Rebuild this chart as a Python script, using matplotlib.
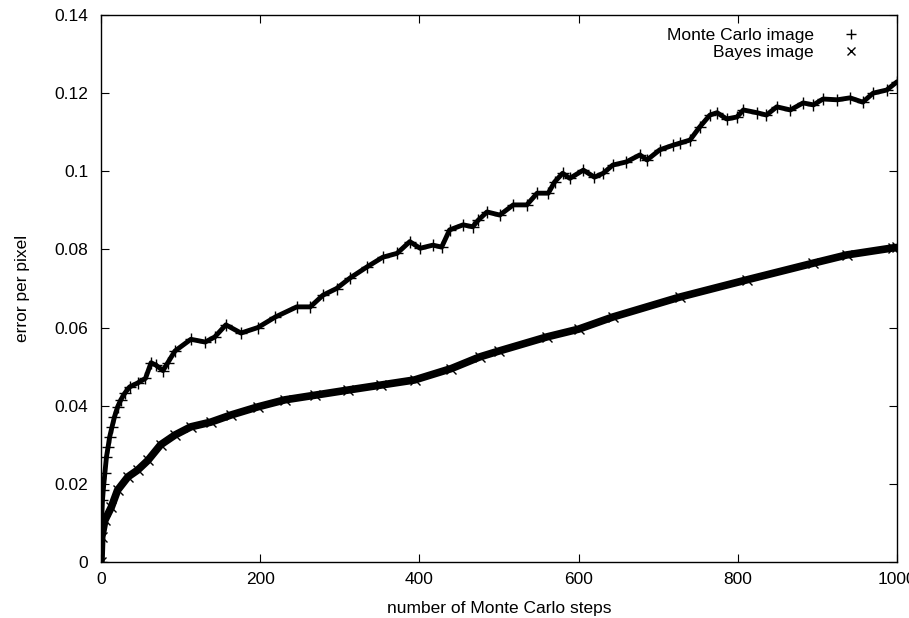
#!/usr/bin/env python3
"""Error per pixel vs number of Monte Carlo steps (gnuplot-style point plot)."""

import matplotlib
matplotlib.use("Agg")
import matplotlib.pyplot as plt
from matplotlib.ticker import FormatStrFormatter

# values
mc_steps = [0, 1, 2, 3, 5, 7, 9, 11, 14, 17, 21, 25, 30, 36, 46, 56, 63, 69, 78, 84,
            93, 113, 131, 143, 157, 176, 197, 219, 246, 263, 279, 296, 313, 334, 354,
            372, 388, 401, 417, 428, 438, 455, 467, 474, 485, 501, 518, 535, 548, 562,
            570, 580, 589, 606, 620, 631, 643, 660, 677, 686, 702, 719, 727, 740, 752,
            765, 774, 786, 799, 807, 824, 836, 849, 866, 882, 895, 907, 925, 941, 957,
            970, 987, 1000]
mc_error = [0.0, 0.011, 0.0159, 0.0185, 0.0228, 0.0269, 0.0294, 0.032, 0.0346, 0.0371,
            0.0397, 0.0415, 0.0432, 0.0448, 0.0458, 0.047, 0.051, 0.0504, 0.049, 0.051,
            0.054, 0.057, 0.0563, 0.0576, 0.0607, 0.0586, 0.060, 0.0627, 0.0653, 0.0653,
            0.0683, 0.070, 0.0727, 0.0755, 0.078, 0.079, 0.082, 0.0803, 0.0811, 0.0806,
            0.085, 0.0863, 0.0858, 0.0875, 0.0896, 0.0888, 0.0914, 0.0914, 0.0944, 0.0944,
            0.0973, 0.0995, 0.0982, 0.1003, 0.0985, 0.0995, 0.1016, 0.1024, 0.1042, 0.1029,
            0.1055, 0.1067, 0.1072, 0.108, 0.1113, 0.1144, 0.115, 0.1134, 0.1139, 0.1157,
            0.115, 0.1144, 0.1165, 0.1157, 0.1175, 0.117, 0.1185, 0.1183, 0.1188, 0.1177,
            0.120, 0.1208, 0.1229]

bayes_steps = [0, 1, 5, 13, 21, 34, 46, 59, 75, 93, 113, 138, 163, 197, 231, 269, 310,
               352, 394, 440, 476, 500, 560, 600, 643, 727, 811, 895, 937, 995, 1000]
bayes_error = [0.0, 0.0064, 0.0107, 0.014, 0.0184, 0.0218, 0.0235, 0.026, 0.030, 0.0325,
               0.0346, 0.0358, 0.0376, 0.0397, 0.0415, 0.0427, 0.044, 0.0453, 0.0466,
               0.0495, 0.0525, 0.054, 0.0576, 0.0596, 0.0627, 0.0678, 0.0722, 0.0765,
               0.0786, 0.0804, 0.0805]

x_ticks = [0, 200, 400, 600, 800, 1000]
y_ticks = [0, 0.02, 0.04, 0.06, 0.08, 0.1, 0.12, 0.14]

plt.rcParams["font.family"] = ["Liberation Sans", "DejaVu Sans"]
plt.rcParams["font.size"] = 12.5

fig = plt.figure(figsize=(9.09, 6.18), dpi=100)
ax = fig.add_axes([0.111, 0.0906, 0.8758, 0.8851])

# thick band under the markers, then the points themselves
ax.plot(mc_steps, mc_error, color="black", lw=3.5, solid_capstyle="round",
        solid_joinstyle="round")
ax.plot(mc_steps, mc_error, ls="none", marker="+", ms=8, mew=1.0, color="black",
        label="Monte Carlo image")
ax.plot(bayes_steps, bayes_error, color="black", lw=5.5, solid_capstyle="round",
        solid_joinstyle="round")
ax.plot(bayes_steps, bayes_error, ls="none", marker="x", ms=7, mew=1.0, color="black",
        label="Bayes image")

ax.set_xlim(0, 1000)
ax.set_ylim(0, 0.14)
ax.set_xticks(x_ticks)
ax.set_yticks(y_ticks)
ax.yaxis.set_major_formatter(FormatStrFormatter("%g"))
ax.tick_params(direction="in", top=True, right=True, length=6, width=0.8)
ax.tick_params(axis="y", pad=9)
ax.tick_params(axis="x", pad=7)
for spine in ax.spines.values():
    spine.set_linewidth(1.0)

ax.set_xlabel("number of Monte Carlo steps", labelpad=10)
ax.set_ylabel("error per pixel", labelpad=18)

leg = ax.legend(loc="upper right", markerfirst=False, frameon=False, handlelength=1.5,
                handletextpad=1.4, labelspacing=0.1, borderaxespad=0.2,
                bbox_to_anchor=(0.972, 0.995), markerscale=0.85)

fig.savefig("out.png", dpi=100)
